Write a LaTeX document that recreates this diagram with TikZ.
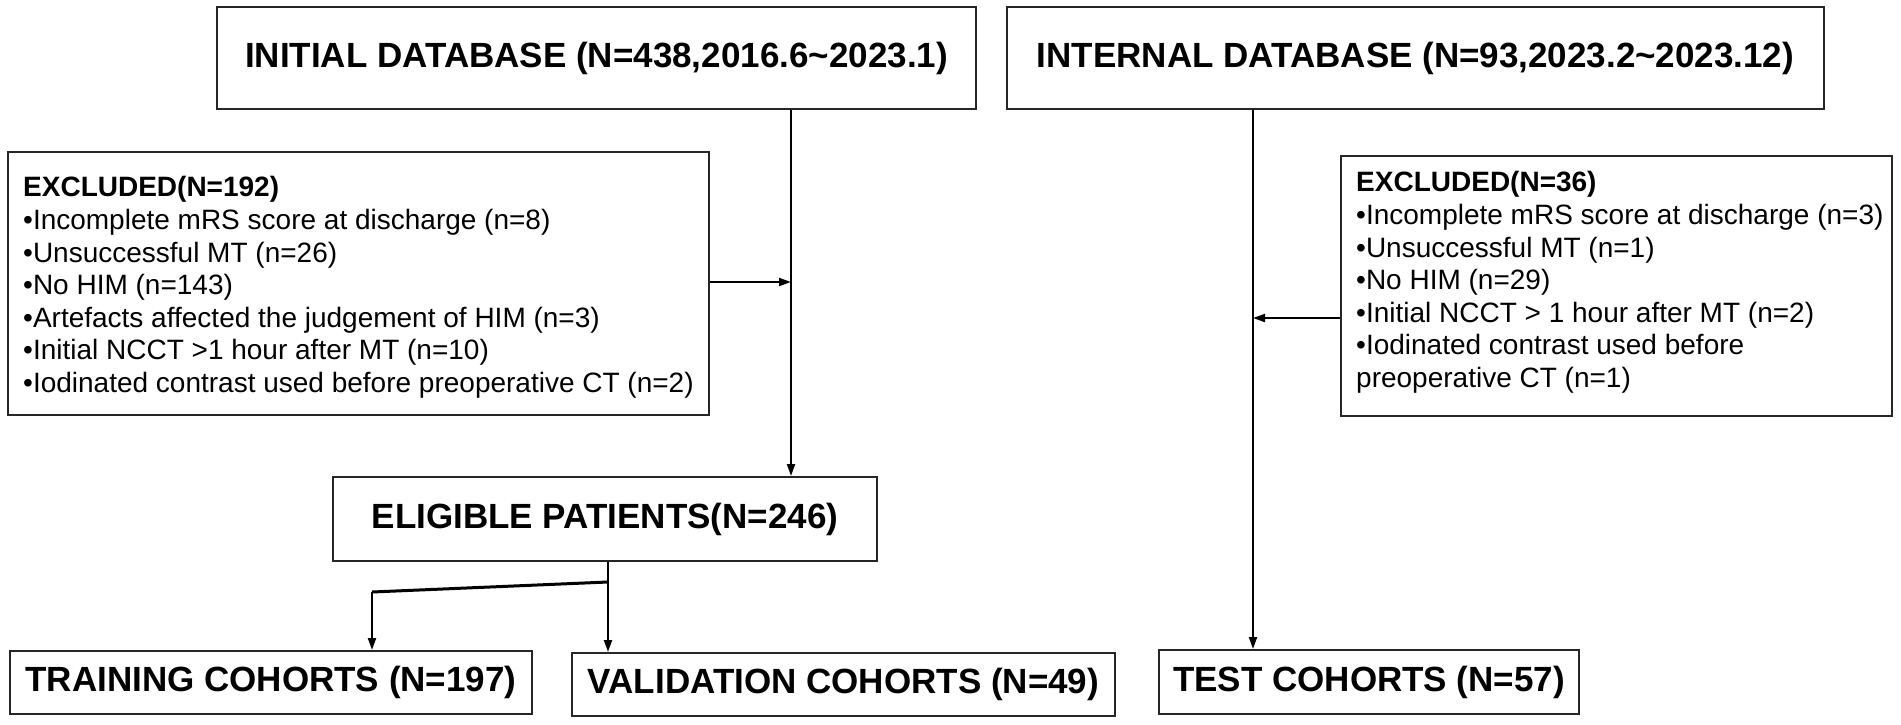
\documentclass[tikz,border=0pt]{standalone}
\usepackage{fontspec}
\setmainfont{Liberation Sans}
\usetikzlibrary{arrows.meta}
\tikzset{
  box/.style={draw=black!85, line width=2pt, inner sep=0pt, fill=white},
  titletext/.style={font=\fontsize{35}{42}\selectfont\bfseries},
  listtext/.style={font=\fontsize{28}{32.6}\selectfont, align=left, inner sep=0pt, anchor=north west},
  conn/.style={draw=black, line width=2pt},
  arr/.style={conn, -{Triangle[length=12pt,width=8pt]}},
}
\begin{document}
\begin{tikzpicture}[x=1pt,y=-1pt]
\useasboundingbox (0,0) rectangle (1901,725);
\fill[white] (0,0) rectangle (1901,725);

% boxes
\node[box, titletext, minimum width=759pt, minimum height=102pt] (init) at (596.5,58)
  {INITIAL DATABASE (N=438,2016.6\textasciitilde 2023.1)};
\node[box, titletext, minimum width=817pt, minimum height=102pt] (intern) at (1415.5,58)
  {INTERNAL DATABASE (N=93,2023.2\textasciitilde 2023.12)};
\node[box, minimum width=701pt, minimum height=263pt] (exL) at (358.5,283.5) {};
\node[box, minimum width=551pt, minimum height=260pt] (exR) at (1616.5,286) {};
\node[box, titletext, minimum width=544pt, minimum height=84pt] (elig) at (605,519)
  {ELIGIBLE PATIENTS(N=246)};
\node[box, titletext, minimum width=522pt, minimum height=63pt] (train) at (271,682.5)
  {TRAINING COHORTS (N=197)};
\node[box, titletext, minimum width=543pt, minimum height=63pt] (valid) at (843.5,684.5)
  {VALIDATION COHORTS (N=49)};
\node[box, titletext, minimum width=420pt, minimum height=64pt] (test) at (1369,682)
  {TEST COHORTS (N=57)};

% list texts
\node[listtext] (exLt) at (23,176.5) {\textbf{EXCLUDED(N=192)}\\
•Incomplete mRS score at discharge (n=8)\\
•Unsuccessful MT (n=26)\\
•No HIM (n=143)\\
•Artefacts affected the judgement of HIM (n=3)\\
•Initial NCCT >1 hour after MT (n=10)\\
•Iodinated contrast used before preoperative CT (n=2)};
\node[listtext] (exRt) at (1356,171.5) {\textbf{EXCLUDED(N=36)}\\
•Incomplete mRS score at discharge (n=3)\\
•Unsuccessful MT (n=1)\\
•No HIM (n=29)\\
•Initial NCCT > 1 hour after MT (n=2)\\
•Iodinated contrast used before\\
preoperative CT (n=1)};

% junction coordinates
\coordinate (jL) at (791,282);
\coordinate (jR) at (1253,318);
\coordinate (jE) at (608,582);
\coordinate (jT) at (372,592);

% connectors
\draw[arr] (init.south -| jL) -- (elig.north -| jL);
\draw[arr] (exL.east |- jL) -- (jL);
\draw[arr] (intern.south -| jR) -- (test.north -| jR);
\draw[arr] (exR.west |- jR) -- (jR);
\draw[arr] (elig.south -| jE) -- (valid.north -| jE);
\draw[conn, line width=3pt] (jE) -- (jT);
\draw[arr] (jT) -- (train.north -| jT);
\end{tikzpicture}
\end{document}
